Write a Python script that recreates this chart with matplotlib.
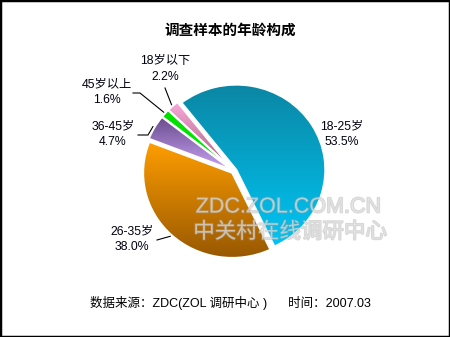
import matplotlib.pyplot as plt
import matplotlib.patheffects as pe
import numpy as np
from matplotlib.colors import LinearSegmentedColormap
from matplotlib.patches import Rectangle

# data
labels = ['18-25岁', '26-35岁', '36-45岁', '45岁以上', '18岁以下']
shares = [53.5, 38.0, 4.7, 1.6, 2.2]
top_colors = ['#0b86a3', '#ff9e00', '#6a4c8c', '#00dd00', '#f8a8d8']
bottom_colors = ['#00c5f5', '#985800', '#c8a2f4', '#00ee00', '#a8607f']

# label block centres in pixels, and elbow points of the leader lines
label_pos = [(342, 134), (132, 239), (113, 134), (107, 92), (165, 69)]
elbows = [None, [(157, 240)], [(138, 135), (148, 135)], [(133, 93), (140, 93)], [(165, 88)]]

W, H = 450, 337
fig = plt.figure(figsize=(W / 100, H / 100), dpi=100)
fam = ['Liberation Sans', 'Noto Sans CJK SC', 'DejaVu Sans']

# pie axes: centre (234, 171) px, 89 px per unit across, 85 px per unit down
cx, cy, rx, ry = 234, 171, 89, 85
ax = fig.add_axes([(cx - 1.5 * rx) / W, (H - cy - 1.5 * ry) / H, 3 * rx / W, 3 * ry / H])
wedges, _ = ax.pie(shares, startangle=128, counterclock=False, explode=[0.03] * 5,
                   wedgeprops=dict(edgecolor='white', linewidth=1.4))

for w, c0, c1 in zip(wedges, top_colors, bottom_colors):
    x0, y0, x1, y1 = w.get_path().get_extents().extents
    cmap = LinearSegmentedColormap.from_list('g', [c1, c0])
    grad = np.linspace(0, 1, 256).reshape(-1, 1)
    im = ax.imshow(grad, cmap=cmap, extent=[x0, x1, y0, y1], origin='lower',
                   aspect='auto', zorder=1, interpolation='bilinear')
    im.set_clip_path(w)
    w.set_facecolor('none')
    w.set_zorder(2)

ax.set_aspect('auto')
ax.set_xlim(-1.5, 1.5)
ax.set_ylim(-1.5, 1.5)
ax.axis('off')

# overlay in pixel coordinates
ov = fig.add_axes([0, 0, 1, 1], facecolor='none')
ov.set_xlim(0, W)
ov.set_ylim(H, 0)
ov.axis('off')


def to_px(x, y):
    dx, dy = ax.transData.transform((x, y))
    return dx, H - dy


for w, lab, val, (lx, ly), el in zip(wedges, labels, shares, label_pos, elbows):
    ov.text(lx, ly, f'{lab}\n{val:.1f}%', ha='center', va='center', fontsize=8.8,
            family=fam, linespacing=1.45, color='#000010')
    if el is None:
        continue
    mid = np.deg2rad((w.theta1 + w.theta2) / 2)
    px, py = to_px(w.center[0] + w.r * 1.02 * np.cos(mid), w.center[1] + w.r * 1.02 * np.sin(mid))
    pts = el + [(px, py)]
    ov.plot([p[0] for p in pts], [p[1] for p in pts], color='black', lw=0.8)

# watermark
wm = [pe.withStroke(linewidth=1.2, foreground='#a0a0a0')]
ov.text(288, 207, 'ZDC.ZOL.COM.CN', ha='center', va='center', fontsize=15.5,
        family=fam, color='#f0f0f0', alpha=0.42, path_effects=wm)
ov.text(290, 232, '中关村在线调研中心', ha='center', va='center', fontsize=15.5,
        family=['Noto Sans CJK SC'], color='#f0f0f0', alpha=0.42, path_effects=wm)

ov.text(230, 30, '调查样本的年龄构成', ha='center', va='center', fontsize=10.5,
        family=['Noto Sans CJK SC'], weight='bold')
ov.text(230, 303, '数据来源：ZDC(ZOL 调研中心 )      时间：2007.03', ha='center', va='center',
        fontsize=9, family=fam)

fig.add_artist(Rectangle((0, 0), 1, 1, transform=fig.transFigure, fill=False,
                         edgecolor='black', linewidth=2.5))

fig.savefig('out.png', dpi=100)
